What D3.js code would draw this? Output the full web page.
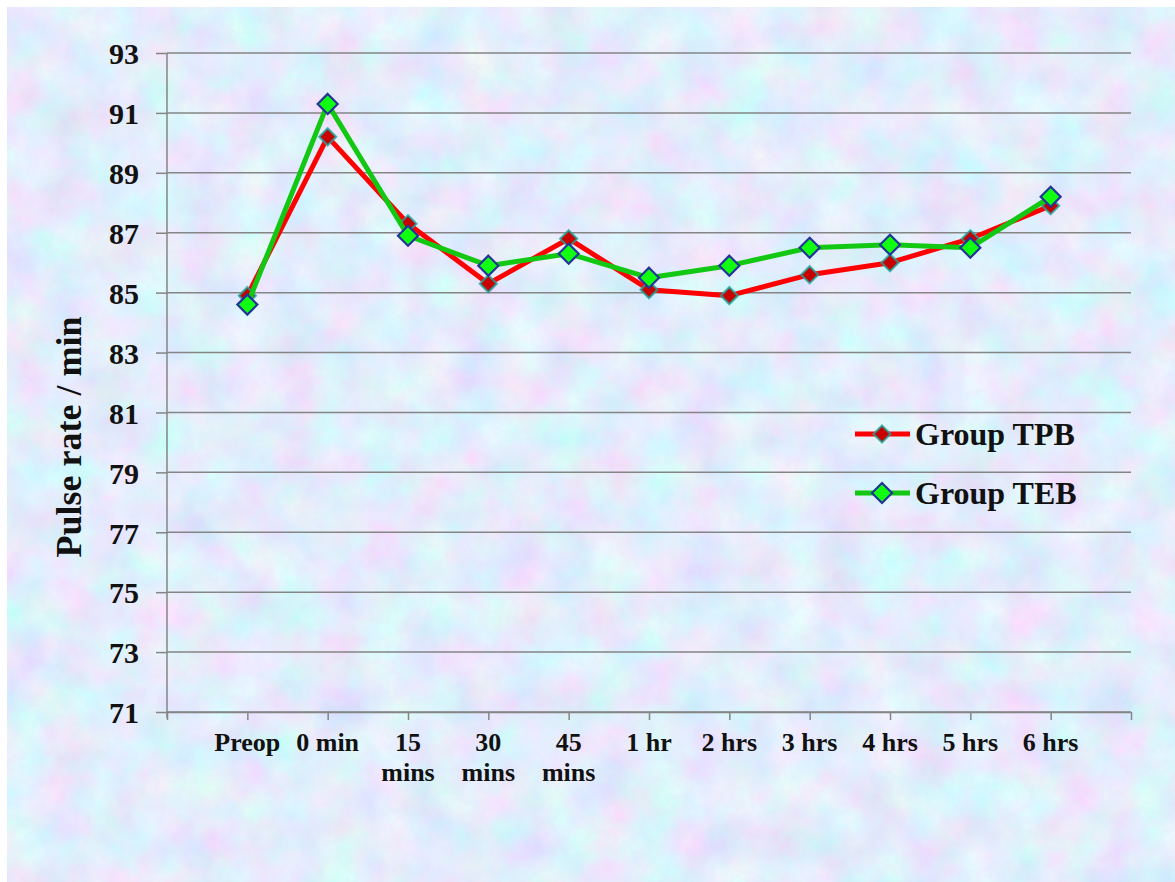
<!DOCTYPE html>
<html>
<head>
<meta charset="utf-8">
<script src="https://cdn.jsdelivr.net/npm/d3@7"></script>
<style>
  html, body { margin: 0; padding: 0; background: #ffffff; }
  svg { display: block; }
</style>
</head>
<body>
<svg id="chart" width="1175" height="882"></svg>
<script>
// Time points of measurement
const categories = ["Preop", "0 min", "15 mins", "30 mins", "45 mins", "1 hr", "2 hrs", "3 hrs", "4 hrs", "5 hrs", "6 hrs"];
// Mean pulse rate per minute for each group
const groupTPB = [84.9, 90.2, 87.3, 85.3, 86.8, 85.1, 84.9, 85.6, 86.0, 86.8, 87.9];
const groupTEB = [84.6, 91.3, 86.9, 85.9, 86.3, 85.5, 85.9, 86.5, 86.6, 86.5, 88.2];
const seriesNames = ["Group TPB", "Group TEB"];
const yTicks = [71, 73, 75, 77, 79, 81, 83, 85, 87, 89, 91, 93];

const svg = d3.select("#chart");
const W = 1175, H = 882;

// Pastel paper background
const defs = svg.append("defs");
const f = defs.append("filter").attr("id", "paper")
  .attr("x", 0).attr("y", 0).attr("width", 1).attr("height", 1)
  .attr("filterUnits", "objectBoundingBox");
f.append("feTurbulence").attr("type", "fractalNoise")
  .attr("baseFrequency", "0.022").attr("numOctaves", 4).attr("seed", 7).attr("result", "n1");
f.append("feColorMatrix").attr("in", "n1").attr("type", "matrix")
  .attr("values", "0.5 -0.15 0 0 0.595  -0.1 0.42 0 0 0.69  0 0 0.18 0 0.88  0 0 0 0 1")
  .attr("result", "c1");
f.append("feTurbulence").attr("type", "fractalNoise")
  .attr("baseFrequency", "0.2").attr("numOctaves", 2).attr("seed", 3).attr("result", "n2");
f.append("feColorMatrix").attr("in", "n2").attr("type", "matrix")
  .attr("values", "0 0 0 0 0.74  0 0 0 0 0.82  0 0 0 0 0.97  0.6 0 0 0 -0.2")
  .attr("result", "c2");
f.append("feComposite").attr("in", "c2").attr("in2", "c1").attr("operator", "over");

svg.append("rect").attr("x", 7).attr("y", 7).attr("width", W - 7).attr("height", H - 7)
  .attr("fill", "#c8d8f2").attr("filter", "url(#paper)");

// Scales: one empty slot on each side of the categories
const x = d3.scaleLinear().domain([-1, categories.length]).range([167, 1131]);
const y = d3.scaleLinear().domain([71, 93]).range([712, 53]);

const font = "'Liberation Serif', 'Times New Roman', serif";

// Horizontal gridlines
svg.append("g").selectAll("line").data(yTicks).join("line")
  .attr("x1", x(-1)).attr("x2", x(categories.length))
  .attr("y1", d => y(d)).attr("y2", d => y(d))
  .attr("stroke", "#858585").attr("stroke-width", 1.5);

// Y axis
const yAxis = svg.append("g").attr("transform", `translate(${x(-1)},0)`)
  .call(d3.axisLeft(y).tickValues(yTicks).tickSize(11).tickPadding(17).tickSizeOuter(0));
yAxis.select(".domain").attr("stroke", "#858585").attr("stroke-width", 1.5)
  .attr("d", `M0,${y(93)}V${y(71) + 6}`);
yAxis.selectAll(".tick line").attr("stroke", "#858585").attr("stroke-width", 1.5);
yAxis.selectAll(".tick text")
  .attr("font-family", font).attr("font-weight", "bold").attr("font-size", 30)
  .attr("fill", "#111").attr("dy", "0.36em");

// X axis
const xAxis = svg.append("g").attr("transform", `translate(0,${y(71)})`)
  .call(d3.axisBottom(x).tickValues(d3.range(-1, categories.length + 1)).tickSize(8)
    .tickFormat("").tickSizeOuter(0));
xAxis.select(".domain").attr("stroke", "#858585").attr("stroke-width", 1.5);
xAxis.selectAll(".tick line").attr("stroke", "#858585").attr("stroke-width", 1.5);

const xl = svg.append("g").selectAll("text").data(categories).join("text")
  .attr("x", (d, i) => x(i)).attr("y", 751)
  .attr("text-anchor", "middle")
  .attr("font-family", font).attr("font-weight", "bold").attr("font-size", 26)
  .attr("fill", "#111");
xl.each(function (d, i) {
  const lines = d.endsWith("mins") ? d.split(" ") : [d];
  d3.select(this).selectAll("tspan").data(lines).join("tspan")
    .attr("x", x(i)).attr("dy", (t, k) => k === 0 ? 0 : 30).text(t => t);
});

// Y axis title
svg.append("text")
  .attr("transform", `translate(81,437) rotate(-90)`)
  .attr("text-anchor", "middle")
  .attr("font-family", font).attr("font-weight", "bold").attr("font-size", 36)
  .attr("fill", "#111").text("Pulse rate / min");

// Series
const styles = [
  { line: "#ff0000", fill: "#c80000", stroke: "rgba(20,170,160,0.75)", r: 8.5 },
  { line: "#12c812", fill: "#10ff10", stroke: "#24349a", r: 10 }
];
const data = [groupTPB, groupTEB];
const lineGen = d3.line().x((d, i) => x(i)).y(d => y(d));
const diamond = r => `M0,${-r}L${r},0L0,${r}L${-r},0Z`;

data.forEach((vals, s) => {
  const st = styles[s];
  const g = svg.append("g");
  g.append("path").datum(vals).attr("d", lineGen)
    .attr("fill", "none").attr("stroke", st.line).attr("stroke-width", 5)
    .attr("stroke-linejoin", "round");
  g.selectAll("path.m").data(vals).join("path").attr("class", "m")
    .attr("transform", (d, i) => `translate(${x(i)},${y(d)})`)
    .attr("d", diamond(st.r))
    .attr("fill", st.fill).attr("stroke", st.stroke).attr("stroke-width", 2.2);
});

// Legend
const legend = svg.append("g");
seriesNames.forEach((name, s) => {
  const st = styles[s];
  const ly = 434 + s * 59;
  legend.append("line").attr("x1", 855).attr("x2", 910).attr("y1", ly).attr("y2", ly)
    .attr("stroke", st.line).attr("stroke-width", 5);
  legend.append("path").attr("transform", `translate(882,${ly})`)
    .attr("d", diamond(st.r))
    .attr("fill", st.fill).attr("stroke", st.stroke).attr("stroke-width", 2.2);
  legend.append("text").attr("x", 915).attr("y", ly + 11)
    .attr("font-family", font).attr("font-weight", "bold").attr("font-size", 32)
    .attr("fill", "#111").text(name);
});
</script>
</body>
</html>
